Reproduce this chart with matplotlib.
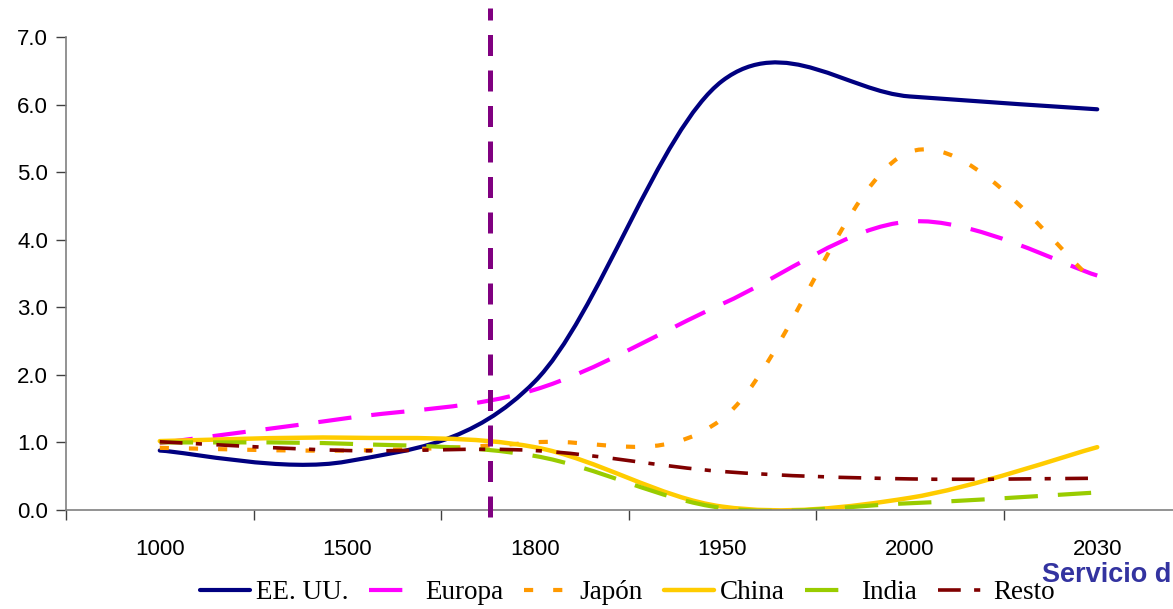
import numpy as np
import matplotlib
matplotlib.use("Agg")
import matplotlib.pyplot as plt
from matplotlib.path import Path
from matplotlib.patches import PathPatch
from matplotlib.lines import Line2D

years = ["1000", "1500", "1800", "1950", "2000", "2030"]
eeuu = [0.88, 0.72, 1.90, 6.35, 6.12, 5.93]
europa = [0.99, 1.36, 1.78, 3.05, 4.27, 3.47]
japon = [0.92, 0.88, 1.00, 1.35, 5.30, 3.35]
china = [1.02, 1.07, 0.93, 0.05, 0.18, 0.93]
india = [1.00, 0.98, 0.80, 0.03, 0.10, 0.26]
resto = [1.01, 0.88, 0.88, 0.57, 0.46, 0.47]

series = [
    ("EE. UU.", eeuu, "#000080", 3.0, "-"),
    ("Europa", europa, "#FF00FF", 3.0, (0, (8, 4.8))),
    ("Japón", japon, "#FF9900", 3.0, (0, (2.2, 4.8))),
    ("China", china, "#FFCC00", 3.2, "-"),
    ("India", india, "#99CC00", 3.0, (0, (8, 4.8))),
    ("Resto", resto, "#800000", 2.6, (0, (6.3, 3.7, 1.7, 4.0))),
]

plt.rcParams["font.family"] = ["Liberation Sans", "DejaVu Sans"]


def smooth_path(xs, ys):
    # excel-style smoothed line: cubic bezier through every point
    pts = np.column_stack([xs, ys]).astype(float)
    n = len(pts)
    verts = [pts[0]]
    codes = [Path.MOVETO]
    for i in range(n - 1):
        prev = pts[i - 1] if i > 0 else pts[i]
        nxt = pts[i + 2] if i + 2 < n else pts[i + 1]
        c1 = pts[i] + (pts[i + 1] - prev) / 6
        c2 = pts[i + 1] - (nxt - pts[i]) / 6
        verts += [c1, c2, pts[i + 1]]
        codes += [Path.CURVE4] * 3
    return Path(verts, codes)


fig = plt.figure(figsize=(11.73, 6.09), dpi=100)
ax = fig.add_axes([66 / 1173, 99 / 609, 1125 / 1173, 473 / 609])

x = np.arange(len(years))
handles = []
for name, vals, color, lw, ls in series:
    solid = ls == "-"
    patch = PathPatch(smooth_path(x, vals), fill=False, edgecolor=color,
                      lw=lw, linestyle=ls,
                      capstyle="round" if solid else "butt",
                      joinstyle="round")
    ax.add_patch(patch)
    handles.append(Line2D([], [], color=color, lw=lw, linestyle=ls,
                          solid_capstyle="round", dash_capstyle="butt"))

# vertical marker (drawn shape in the original)
ax.plot([1.76, 1.76], [-0.1, 7.43], color="#800080", lw=3.6,
        linestyle=(0, (4.2, 2.9)), clip_on=False, zorder=5)

ax.set_xlim(-0.5, len(years) - 0.5)
ax.set_ylim(0, 7)
ax.set_xticks(x)
ax.set_xticklabels(years)
ax.set_xticks(np.arange(-0.5, len(years), 1.0), minor=True)
ax.tick_params(axis="x", which="major", length=0, pad=21, labelsize=16)
ax.tick_params(axis="x", which="minor", length=7, width=1, color="#404040",
               direction="out")
ax.set_yticks(np.arange(0, 7.5, 1.0))
ax.set_yticklabels([f"{v:.1f}" for v in np.arange(0, 7.5, 1.0)])
ax.tick_params(axis="y", length=7, width=1, color="#404040", labelsize=16,
               pad=6)

for s in ["top", "right"]:
    ax.spines[s].set_visible(False)
for s in ["left", "bottom"]:
    ax.spines[s].set_color("#808080")
    ax.spines[s].set_linewidth(1.2)

fig.legend(handles, [s[0] for s in series], loc="center",
           bbox_to_anchor=(0.535, 0.027), ncol=6, frameon=False,
           prop={"family": "Liberation Serif", "size": 19.5},
           handlelength=1.85, handletextpad=0.2, columnspacing=0.78,
           borderpad=0.1)

fig.text(0.999, 0.045, "Servicio d", color="#3333A0",
         fontsize=19.5, fontweight="bold", ha="right", va="baseline")

fig.savefig("out.png", dpi=100)
